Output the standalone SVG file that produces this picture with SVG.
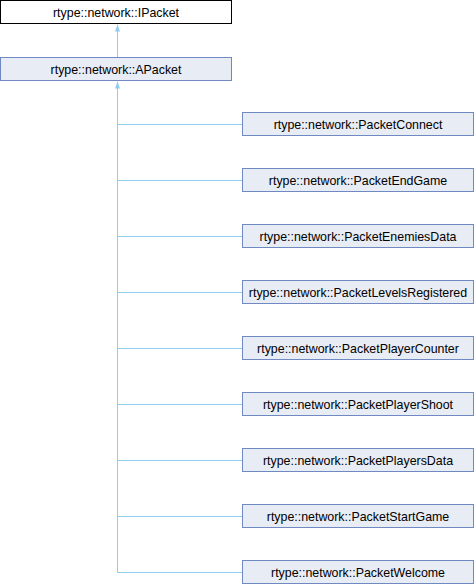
<svg xmlns="http://www.w3.org/2000/svg" width="474" height="584" viewBox="0 0 474 584">
<style>
.n rect{fill:#e8ecf5;stroke:#7189c3;stroke-width:1}
.n.top rect{fill:#ffffff;stroke:#000000}
.n text{font-family:"Liberation Sans",Arial,sans-serif;font-size:12.4px;fill:#000;text-anchor:middle}
.e{fill:none;stroke:#8fcdef;stroke-width:1}
</style>
<defs>
<marker id="ah" markerWidth="7" markerHeight="5" refX="7" refY="2.5" orient="auto" markerUnits="userSpaceOnUse" viewBox="0 0 7 5">
<path d="M0,0 L7,2.5 L0,5 Z" fill="#8fcdef"/>
</marker>
</defs>
<rect width="474" height="584" fill="#ffffff"/>
<g id="edges">
<path class="e" d="M117.5,57 V24.5" marker-end="url(#ah)"/>
<path class="e" d="M117.5,572.5 V81.5" marker-end="url(#ah)"/>
<path class="e" d="M117.5,124.5 H242"/>
<path class="e" d="M117.5,180.5 H242"/>
<path class="e" d="M117.5,236.5 H242"/>
<path class="e" d="M117.5,292.5 H242"/>
<path class="e" d="M117.5,348.5 H242"/>
<path class="e" d="M117.5,404.5 H242"/>
<path class="e" d="M117.5,460.5 H242"/>
<path class="e" d="M117.5,516.5 H242"/>
<path class="e" d="M117.5,572.5 H242"/>
</g>
<g id="IPacket" class="n top"><rect x="0.5" y="0.5" width="231" height="23"/><text x="116" y="16.5">rtype::network::IPacket</text></g>
<g id="APacket" class="n"><rect x="0.5" y="57.5" width="231" height="23"/><text x="116" y="73.5">rtype::network::APacket</text></g>
<g id="PacketConnect" class="n"><rect x="242.5" y="112.5" width="231" height="23"/><text x="358" y="128.5">rtype::network::PacketConnect</text></g>
<g id="PacketEndGame" class="n"><rect x="242.5" y="168.5" width="231" height="23"/><text x="358" y="184.5">rtype::network::PacketEndGame</text></g>
<g id="PacketEnemiesData" class="n"><rect x="242.5" y="224.5" width="231" height="23"/><text x="358" y="240.5">rtype::network::PacketEnemiesData</text></g>
<g id="PacketLevelsRegistered" class="n"><rect x="242.5" y="280.5" width="231" height="23"/><text x="358" y="296.5">rtype::network::PacketLevelsRegistered</text></g>
<g id="PacketPlayerCounter" class="n"><rect x="242.5" y="336.5" width="231" height="23"/><text x="358" y="352.5">rtype::network::PacketPlayerCounter</text></g>
<g id="PacketPlayerShoot" class="n"><rect x="242.5" y="392.5" width="231" height="23"/><text x="358" y="408.5">rtype::network::PacketPlayerShoot</text></g>
<g id="PacketPlayersData" class="n"><rect x="242.5" y="448.5" width="231" height="23"/><text x="358" y="464.5">rtype::network::PacketPlayersData</text></g>
<g id="PacketStartGame" class="n"><rect x="242.5" y="504.5" width="231" height="23"/><text x="358" y="520.5">rtype::network::PacketStartGame</text></g>
<g id="PacketWelcome" class="n"><rect x="242.5" y="560.5" width="231" height="23"/><text x="358" y="576.5">rtype::network::PacketWelcome</text></g>
</svg>
